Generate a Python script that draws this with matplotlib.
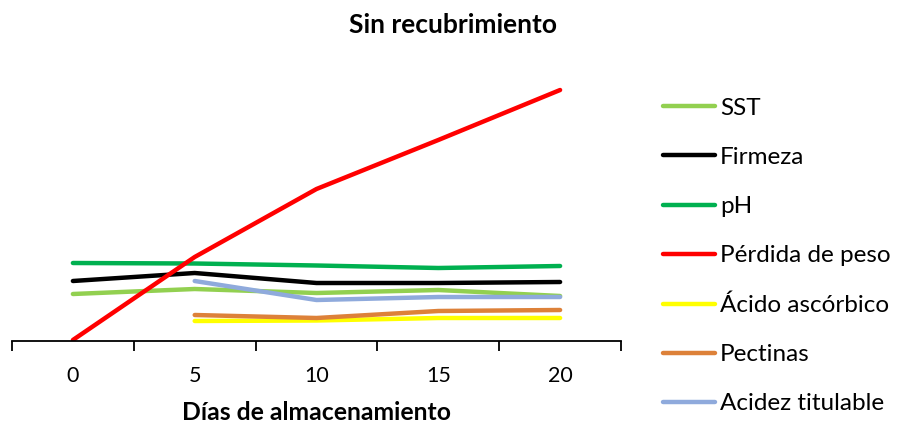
import matplotlib
matplotlib.use('Agg')
import matplotlib.pyplot as plt
import numpy as np

# Días de almacenamiento (eje de categorías)
dias = ['0', '5', '10', '15', '20']

# Valores relativos de cada variable (sin escala vertical visible)
sst = [47, 52, 48, 51, 45]
firmeza = [60, 68, 58, 58, 59]
ph = [78, 77.5, 75.5, 73, 75]
perdida_peso = [1, 84, 152, 201, 251]
acido_ascorbico = [np.nan, 20, 20.5, 23, 23]
pectinas = [np.nan, 26, 23, 30, 31]
acidez_titulable = [np.nan, 60, 41, 44, 44]

series = [
    ('SST', sst, '#92D050'),
    ('Firmeza', firmeza, '#000000'),
    ('pH', ph, '#00B050'),
    ('Pérdida de peso', perdida_peso, '#FF0000'),
    ('Ácido ascórbico', acido_ascorbico, '#FFFF00'),
    ('Pectinas', pectinas, '#DD8139'),
    ('Acidez titulable', acidez_titulable, '#8FAADC'),
]

plt.rcParams['font.family'] = ['Lato', 'DejaVu Sans']

W, H = 899, 429
fig = plt.figure(figsize=(W / 100, H / 100), dpi=100)
ax = fig.add_axes([12 / W, (H - 341) / H, 609 / W, 279 / H])

x = np.arange(len(dias))
for name, vals, color in series:
    ax.plot(x, vals, color=color, lw=3.2, solid_capstyle='round',
            solid_joinstyle='round', label=name)

ax.set_xlim(-0.5, len(dias) - 0.5)
ax.set_ylim(0, 279)

# ticks between categories, labels centred on each category
ax.set_xticks(np.arange(-0.5, len(dias)), labels=[''] * (len(dias) + 1))
ax.set_xticks(x, labels=dias, minor=True)
ax.tick_params(axis='x', which='major', direction='out', length=7,
               width=1.3, color='black')
ax.tick_params(axis='x', which='minor', length=0, pad=18, labelsize=15.5,
               labelcolor='#000000')
ax.set_yticks([])

for s in ['top', 'right', 'left']:
    ax.spines[s].set_visible(False)
ax.spines['bottom'].set_linewidth(1.3)

ax.set_xlabel('Días de almacenamiento', fontsize=17.8, fontweight='bold')
ax.xaxis.label.set_va('center')
ax.xaxis.set_label_coords(0.5, (341 - 413) / 279)
fig.text(453 / W, 1 - 25 / H, 'Sin recubrimiento', fontsize=19,
         fontweight='bold', ha='center', va='center')

ax.legend(loc='upper left', bbox_to_anchor=(653 / W, 1 - 88 / H),
          bbox_transform=fig.transFigure, frameon=False, fontsize=17.5,
          handlelength=2.15, handletextpad=0.2, labelspacing=1.16,
          borderaxespad=0)

fig.savefig('out.png', dpi=100)
